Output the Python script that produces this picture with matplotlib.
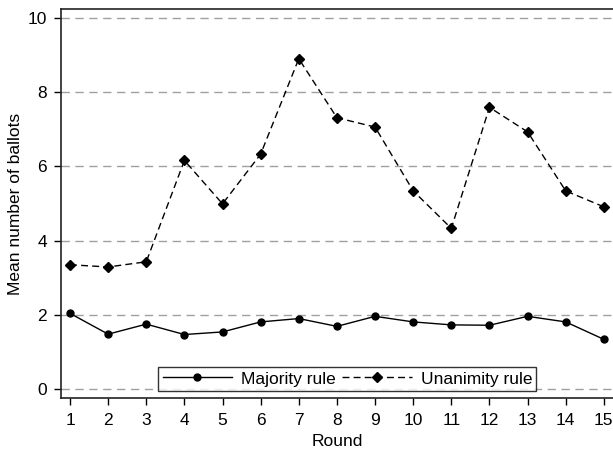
import matplotlib
matplotlib.use("Agg")
import matplotlib.pyplot as plt

rounds = list(range(1, 16))
majority = [2.04, 1.48, 1.75, 1.47, 1.54, 1.81, 1.90, 1.69, 1.96, 1.81, 1.73, 1.72, 1.96, 1.81, 1.34]
unanimity = [3.35, 3.29, 3.43, 6.16, 4.99, 6.33, 8.90, 7.31, 7.06, 5.34, 4.33, 7.59, 6.93, 5.34, 4.91]
yticks = [0, 2, 4, 6, 8, 10]

plt.rcParams['font.family'] = ['Liberation Sans', 'DejaVu Sans']
fig = plt.figure(figsize=(6.13, 4.54), dpi=100)
ax = fig.add_axes([60.7/613, 1 - 398/454, (613 - 60.7)/613, (398 - 9)/454])

for y in yticks:
    ax.axhline(y, color='#a0a0a0', lw=1.0, ls=(0, (6, 4)), zorder=0)

ax.plot(rounds, majority, color='black', lw=1.0, marker='o', ms=5, label='Majority rule')
ax.plot(rounds, unanimity, color='black', lw=1.0, ls=(0, (5, 3)), marker='D', ms=5.5, label='Unanimity rule')

fs = 12.5
ax.set_xlim(0.756, 15.24)
ax.set_ylim(-0.24, 10.24)
ax.set_xticks(rounds)
ax.set_yticks(yticks)
ax.tick_params(direction='out', length=5, width=1, labelsize=fs, colors='black')
ax.tick_params(axis='x', pad=6)
ax.tick_params(axis='y', pad=5)
for s in ['left', 'bottom', 'top']:
    ax.spines[s].set_color('#222222')
    ax.spines[s].set_linewidth(1.2)
ax.spines['right'].set_visible(False)
ax.set_xlabel('Round', fontsize=fs, labelpad=4)
ax.set_ylabel('Mean number of ballots', fontsize=fs, labelpad=3)

leg = ax.legend(loc='center', bbox_to_anchor=(0.519, 0.049), ncol=2, fontsize=fs,
                frameon=True, fancybox=False, handlelength=4.0, columnspacing=0.4,
                handletextpad=0.5, borderpad=0.25, borderaxespad=0)
leg.get_frame().set_edgecolor('black')
leg.get_frame().set_linewidth(1.0)

fig.savefig('out.png', dpi=100)
